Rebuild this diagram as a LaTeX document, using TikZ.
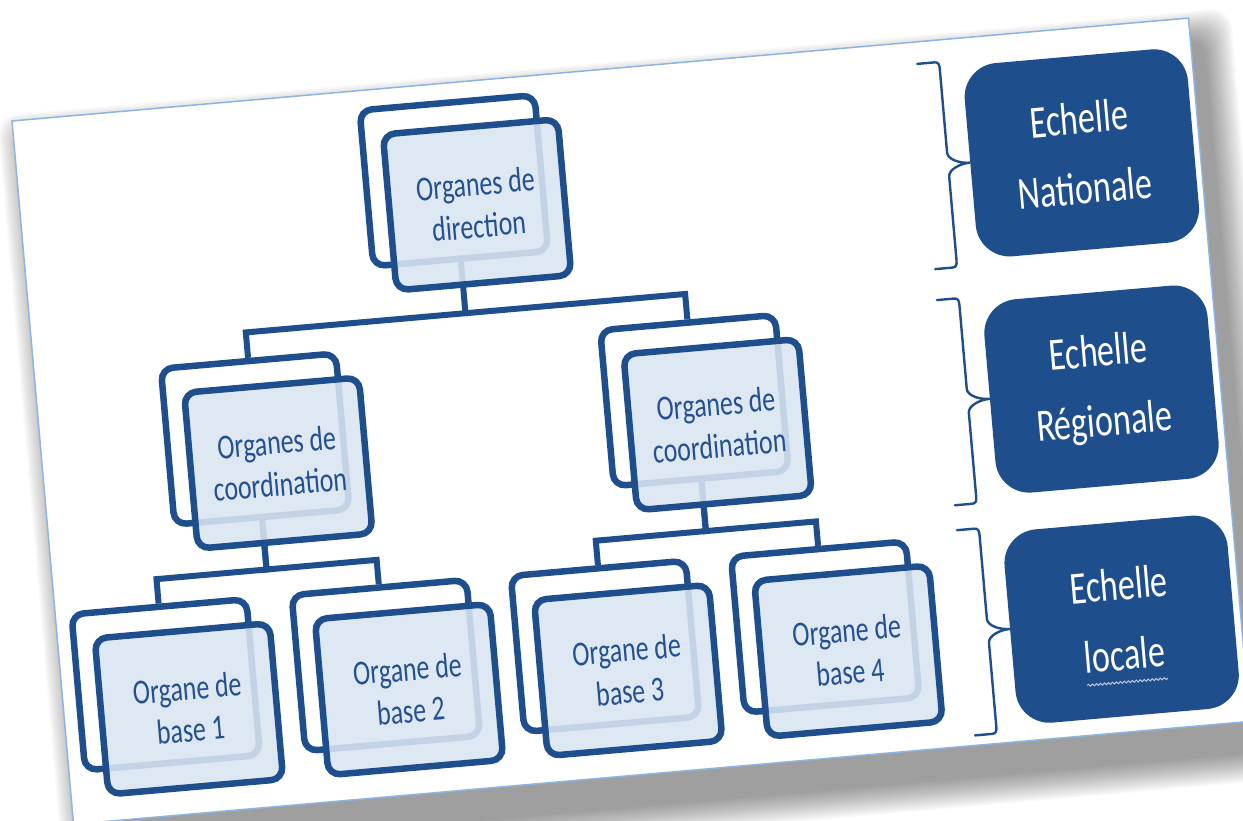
\documentclass[tikz,border=0pt]{standalone}
\usepackage{fontspec}
\setmainfont{Carlito}
\newfontfamily\narrowfont{Carlito}[FakeStretch=0.74]
\usepackage{tikz}
\usetikzlibrary{decorations.pathmorphing}
\definecolor{orgblue}{RGB}{30,78,140}
\definecolor{orgfill}{RGB}{218,229,242}
\definecolor{orgtext}{RGB}{36,80,144}
\definecolor{pageline}{RGB}{141,180,226}
\definecolor{wavegray}{RGB}{190,200,222}

\begin{document}
\begin{tikzpicture}[x=1pt, y=-1pt,
    backbox/.style={draw=orgblue, line width=6.5pt, fill=white, rounded corners=12pt,
      minimum width=175.5pt, minimum height=156.5pt, inner sep=0pt},
    frontbox/.style={backbox, fill=orgfill, fill opacity=0.88, text opacity=1,
      text=orgtext, align=center, font=\narrowfont\fontsize{35}{42}\selectfont},
    scalebox/.style={fill=orgblue, rounded corners=34pt, minimum width=224pt,
      minimum height=194pt, inner sep=0pt, text=white, align=center,
      font=\narrowfont\fontsize{46}{70}\selectfont,
      execute at begin node={\rule{0pt}{45pt}}},
    link/.style={draw=orgblue, line width=6pt},
    brace/.style={draw=orgblue, line width=2.4pt, line cap=round}]
  \useasboundingbox (0,0) rectangle (1243,820);
  \def\orglist{dir/456/124/{Organes de\\direction},
    coa/235.5/364/{Organes de\\coordination}, cob/676.5/364/{Organes de\\coordination},
    bsa/125/601/{Organe de\\base 1}, bsb/346/601/{Organe de\\base 2},
    bsc/566/601/{Organe de\\base 3}, bsd/787/601/{Organe de\\base 4}}
  \begin{scope}[shift={(12,121)}, rotate=5, transform shape]
    % page and its shadow
    \foreach \k in {0,...,19}
      \fill[black, opacity=0.025, rounded corners=20pt]
        (14-\k*1.5, 22-\k*1.5) rectangle (1195+\k*1.5, 738+\k*1.5);
    \fill[white] (0,0) rectangle (1181,706);
    \draw[pageline, line width=1.5pt] (0,0) rectangle (1181,706);

    \foreach \n/\x/\y/\t in \orglist
      \node[backbox] (b\n) at (\x-21,\y-26) {};

    \coordinate (j1) at (0,231);
    \coordinate (j2) at (0,469);
    \draw[link] (bdir.south) -- (bdir.south |- j1) -| (bcoa.north);
    \draw[link] (bdir.south |- j1) -| (bcob.north);
    \foreach \p/\c in {coa/bsa, coa/bsb, cob/bsc, cob/bsd}
      \draw[link] (b\p.south) -- (b\p.south |- j2) -| (b\c.north);

    \foreach \n/\x/\y/\t in \orglist
      \node[frontbox] (f\n) at (\x,\y) {\t};

    % levels
    \node[scalebox] (natl) at (1063,125) {Echelle\\Nationale};
    \node[scalebox] (regl) at (1062,362) {Echelle\\Régionale};
    \node[scalebox] (locl) at (1062,593) {Echelle\\locale};
    \foreach \s in {natl,regl,locl}
      \draw[brace] (\s.west) ++(-44,-103) -- ++(17,0)
        .. controls +(4,0) and +(0,-5) .. ++(5,7) -- ++(0,84)
        .. controls +(0,7) and +(-10,0) .. ++(22,12)
        .. controls +(-10,0) and +(0,-7) .. ++(-22,12) -- ++(0,84)
        .. controls +(0,5) and +(4,0) .. ++(-5,7) -- ++(-17,0);
    \draw[wavegray, line width=1pt, decorate,
      decoration={snake, amplitude=1pt, segment length=4pt}]
      (locl.center) ++(-40,63) -- ++(81,0);
  \end{scope}
\end{tikzpicture}
\end{document}
